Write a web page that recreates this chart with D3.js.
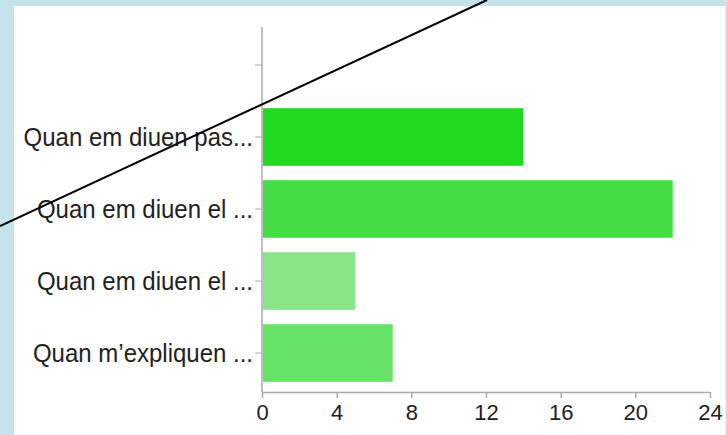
<!DOCTYPE html>
<html>
<head>
<meta charset="utf-8">
<script src="https://cdn.jsdelivr.net/npm/d3@7"></script>
<style>
	html, body { margin: 0; padding: 0; background: #c6e2ea; }
	svg { display: block; }
	.axis text { font-family: 'Liberation Sans', Arial, sans-serif; fill: #222; }
</style>
</head>
<body>
<script>
	/***********************************************************************/
	//Data
	/***********************************************************************/
	const categories = ['Quan em diuen pas...', 'Quan em diuen el ...', 'Quan em diuen el ...', 'Quan m\u2019expliquen ...']
	const values = [14, 22, 5, 7]
	const barColors = ['#22d922', '#44dd44', '#88e588', '#66e266']
	const xTickValues = [0, 4, 8, 12, 16, 20, 24]

	/***********************************************************************/
	//Plot Area
	/***********************************************************************/
	const width = 727
	const height = 435
	const margin = { left : 262, right : 17, top : 29, bottom : 43 }

	const svg = d3.select('body').append('svg')
		.attr('width', width)
		.attr('height', height)

	svg.append('rect')
		.attr('x', 14)
		.attr('y', 6)
		.attr('width', 711.5)
		.attr('height', height - 6)
		.attr('fill', '#fff')

	const g = svg.append('g')
		.attr('transform', 'translate(' + margin.left + ',' + margin.top + ')')

	const plotH = height - margin.top - margin.bottom

	/***********************************************************************/
	//Scale
	/***********************************************************************/
	// first band is an empty slot, like the source chart
	const keys = ['blank'].concat(categories.map((c, i) => 'c' + i))
	const yScale = d3.scaleBand()
		.domain(keys)
		.range([0, 360])
		.paddingInner(0.2)
		.paddingOuter(0.1)

	const xScale = d3.scaleLinear()
		.domain([0, 24])
		.range([0, 448])

	/***********************************************************************/
	//Bars
	/***********************************************************************/
	g.selectAll('.bar')
		.data(values)
		.join('rect')
		.attr('class', 'bar')
		.attr('x', xScale(0) + 1)
		.attr('y', (d, i) => yScale('c' + i))
		.attr('width', d => xScale(d) - xScale(0) - 1)
		.attr('height', yScale.bandwidth())
		.attr('fill', (d, i) => barColors[i])

	/***********************************************************************/
	//Axes
	/***********************************************************************/
	const yAxisG = g.append('g').attr('class', 'axis')
	yAxisG.call(d3.axisLeft(yScale)
		.tickSize(7)
		.tickSizeOuter(0)
		.tickPadding(2)
		.tickFormat(k => k === 'blank' ? '' : categories[+k.slice(1)]))
	yAxisG.select('.domain').remove()
	yAxisG.selectAll('.tick line').attr('stroke', '#aaa')
	yAxisG.selectAll('.tick text')
		.style('font-size', '24px')
		.attr('transform', 'scale(1,1.1)')
		.attr('dy', '0.34em')

	g.append('line')
		.attr('x1', xScale(0)).attr('x2', xScale(0))
		.attr('y1', -2).attr('y2', plotH)
		.attr('stroke', '#aaa')
		.attr('stroke-width', 1.5)

	const xAxisG = g.append('g').attr('class', 'axis')
		.attr('transform', 'translate(0,' + plotH + ')')
	xAxisG.call(d3.axisBottom(xScale)
		.tickValues(xTickValues)
		.tickSize(6)
		.tickSizeOuter(0)
		.tickPadding(6))
	xAxisG.select('.domain').attr('stroke', '#aaa').attr('stroke-width', 1.5)
	xAxisG.selectAll('.tick line').attr('stroke', '#aaa').attr('stroke-width', 1.5)
	xAxisG.selectAll('.tick text').style('font-size', '22px')

	/***********************************************************************/
	//Overlay stroke (hand-drawn line over the screenshot)
	/***********************************************************************/
	const strike = { x1 : 0, y1 : 226, x2 : 487, y2 : 0 }
	svg.append('line')
		.attr('x1', strike.x1).attr('y1', strike.y1)
		.attr('x2', strike.x2).attr('y2', strike.y2)
		.attr('stroke', '#000')
		.attr('stroke-width', 2)
</script>
</body>
</html>
